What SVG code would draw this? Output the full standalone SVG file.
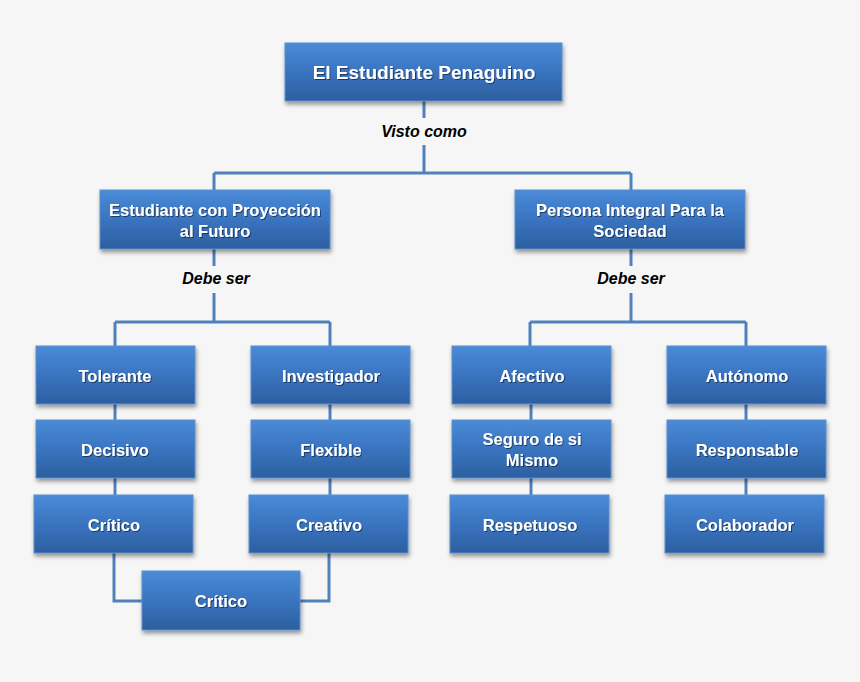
<svg xmlns="http://www.w3.org/2000/svg" width="860" height="682" viewBox="0 0 860 682">
<style>
.box{fill:url(#g);stroke:#5b8fd0;stroke-width:1;filter:url(#sh)}
.t{font-family:"Liberation Sans",Arial,sans-serif;font-weight:bold;fill:#fff;text-anchor:middle;font-size:16.5px;filter:url(#ts)}
.lbl{font-family:"Liberation Sans",Arial,sans-serif;font-weight:bold;font-style:italic;fill:#000;text-anchor:middle;font-size:16px}
.c{stroke:#4f81bd;stroke-width:3;fill:none}
</style>
<defs>
<linearGradient id="g" x1="0" y1="0" x2="0" y2="1">
<stop offset="0" stop-color="#4a8bd8"/>
<stop offset="0.5" stop-color="#3a74c0"/>
<stop offset="1" stop-color="#2c5f9f"/>
</linearGradient>
<filter id="sh" x="-10%" y="-10%" width="130%" height="140%">
<feDropShadow dx="1" dy="3" stdDeviation="2" flood-color="#000" flood-opacity="0.4"/>
</filter>
<filter id="ts" x="-10%" y="-30%" width="120%" height="160%">
<feDropShadow dx="1" dy="1" stdDeviation="0.6" flood-color="#000" flood-opacity="0.5"/>
</filter>
</defs>
<rect width="860" height="682" fill="#f6f6f6"/>
<g id="connectors">
<path class="c" d="M424 101V118M424 145V173M214 173H631M214 173V190M631 173V190"/>
<path class="c" d="M214 249V266M214 293V322M115 322H330M115 322V346M330 322V346"/>
<path class="c" d="M631 249V266M631 293V322M530 322H746M530 322V346M746 322V346"/>
<path class="c" d="M115 404V420M115 478V495M330 404V420M330 478V495"/>
<path class="c" d="M531 404V420M531 478V495M746 404V420M746 478V495"/>
<path class="c" d="M114 553V601H142M329 553V601H300"/>
</g>
<text class="lbl" x="424" y="137">Visto como</text>
<text class="lbl" x="216" y="284">Debe ser</text>
<text class="lbl" x="631" y="284">Debe ser</text>
<g id="root"><rect class="box" x="285" y="43" width="277" height="58"/><text class="t" x="424" y="79" style="font-size:19px">El Estudiante Penaguino</text></g>
<g id="n-proyeccion"><rect class="box" x="100" y="190" width="230" height="59"/><text class="t" x="215" y="216">Estudiante con Proyección</text><text class="t" x="215" y="237">al Futuro</text></g>
<g id="n-persona"><rect class="box" x="515" y="190" width="230" height="59"/><text class="t" x="630" y="216">Persona Integral Para la</text><text class="t" x="630" y="237">Sociedad</text></g>
<g id="n-tolerante"><rect class="box" x="36" y="346" width="159" height="58"/><text class="t" x="115" y="382">Tolerante</text></g>
<g id="n-investigador"><rect class="box" x="251" y="346" width="159" height="58"/><text class="t" x="331" y="382">Investigador</text></g>
<g id="n-decisivo"><rect class="box" x="36" y="420" width="159" height="58"/><text class="t" x="115" y="456">Decisivo</text></g>
<g id="n-flexible"><rect class="box" x="251" y="420" width="159" height="58"/><text class="t" x="331" y="456">Flexible</text></g>
<g id="n-critico1"><rect class="box" x="34" y="495" width="159" height="58"/><text class="t" x="114" y="531">Crítico</text></g>
<g id="n-creativo"><rect class="box" x="249" y="495" width="159" height="58"/><text class="t" x="329" y="531">Creativo</text></g>
<g id="n-critico2"><rect class="box" x="142" y="571" width="158" height="59"/><text class="t" x="221" y="607">Crítico</text></g>
<g id="n-afectivo"><rect class="box" x="452" y="346" width="159" height="58"/><text class="t" x="532" y="382">Afectivo</text></g>
<g id="n-autonomo"><rect class="box" x="667" y="346" width="159" height="58"/><text class="t" x="747" y="382">Autónomo</text></g>
<g id="n-seguro"><rect class="box" x="452" y="420" width="159" height="58"/><text class="t" x="532" y="445">Seguro de si</text><text class="t" x="532" y="466">Mismo</text></g>
<g id="n-responsable"><rect class="box" x="667" y="420" width="159" height="58"/><text class="t" x="747" y="456">Responsable</text></g>
<g id="n-respetuoso"><rect class="box" x="450" y="495" width="159" height="58"/><text class="t" x="530" y="531">Respetuoso</text></g>
<g id="n-colaborador"><rect class="box" x="665" y="495" width="159" height="58"/><text class="t" x="745" y="531">Colaborador</text></g>
</svg>
